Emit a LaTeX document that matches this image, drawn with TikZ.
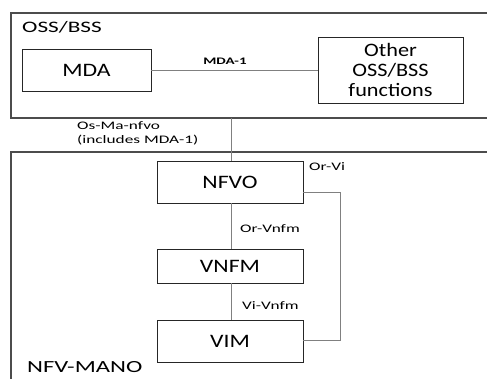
\documentclass[tikz,border=0pt]{standalone}
\usepackage{fontspec}
\setmainfont{Carlito}
\newfontfamily\boxf[FakeStretch=1.25]{Carlito}
\newfontfamily\otherf[FakeStretch=1.17]{Carlito}
\newfontfamily\titf[FakeStretch=1.45]{Carlito}
\newfontfamily\smallf[FakeStretch=1.5]{Carlito}
\newfontfamily\boldf[FakeStretch=1.5]{Carlito Bold}
\begin{document}
\begin{tikzpicture}[x=1pt,y=-1pt,
  frame/.style={draw=black!70,line width=1.2pt},
  fbox/.style={draw=black!85,line width=0.9pt,minimum width=146pt,inner sep=0pt,font=\boxf\fontsize{19}{20}\selectfont,align=center},
  conn/.style={draw=black!50,line width=0.9pt},
  lab/.style={font=\smallf\fontsize{11.5}{14}\selectfont,inner sep=0pt,align=left},
  title/.style={font=\titf\fontsize{16}{17}\selectfont,inner sep=0pt,anchor=west}]
\clip (0,0) rectangle (487,378);
\fill[white] (0,0) rectangle (487,378);
% outer frames
\draw[frame] (11,13) rectangle (500,118);
\draw[frame] (11,152) rectangle (500,400);
\node[title] (oss) at (22,27) {OSS/BSS};
\node[title,font=\titf\fontsize{17}{18}\selectfont] (mano) at (27,367) {NFV-MANO};
% boxes
\node[fbox,minimum width=129pt,minimum height=42pt] (mda) at (86.5,70) {MDA};
\node[fbox,minimum width=145pt,minimum height=66pt,font=\otherf\fontsize{19}{20}\selectfont] (other) at (390.5,70) {Other\\OSS/BSS\\functions};
\node[fbox,minimum height=42pt] (nfvo) at (230,182) {NFVO};
\node[fbox,minimum height=34pt] (vnfm) at (230,266) {VNFM};
\node[fbox,minimum height=42pt] (vim) at (230,341) {VIM};
% connectors
\draw[conn] (mda.east) -- (other.west);
\node[font=\boldf\fontsize{10}{11}\selectfont,inner sep=0pt] (mdal) at (225,61) {MDA-1};
\coordinate (ossb) at (231,118);
\draw[conn] (ossb) -- (ossb |- nfvo.north);
\draw[conn] (231,203) -- (231,249);
\draw[conn] (231,283) -- (231,320);
\coordinate (ovr) at (340,192);
\draw[conn] (nfvo.east |- ovr) -- (ovr) -- (ovr |- 0,340) -- (vim.east |- 0,340);
% labels
\node[lab,anchor=north west] (osma) at (77,121) {Os-Ma-nfvo\\(includes MDA-1)};
\node[lab,anchor=west] (orvi) at (309,167) {Or-Vi};
\node[lab,anchor=west] (orvnfm) at (240,229) {Or-Vnfm};
\node[lab,anchor=west] (vivnfm) at (242,306) {Vi-Vnfm};
\end{tikzpicture}
\end{document}
